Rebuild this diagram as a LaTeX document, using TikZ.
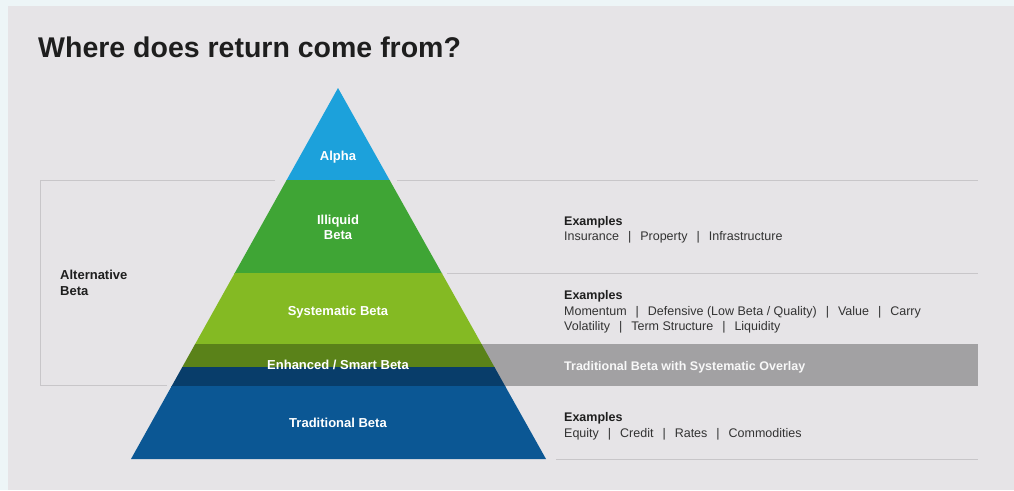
\documentclass[tikz,border=0pt]{standalone}
\usepackage{fontspec}
\setmainfont{Liberation Sans}
\usetikzlibrary{calc}

\definecolor{outerbg}{HTML}{EDF5F7}
\definecolor{panelbg}{HTML}{E6E4E7}
\definecolor{rulegray}{HTML}{C8C6C9}
\definecolor{bandgray}{HTML}{A2A1A3}
\definecolor{alphablue}{HTML}{1CA1DB}
\definecolor{illiquidgreen}{HTML}{3FA535}
\definecolor{systgreen}{HTML}{84BA23}
\definecolor{smartgreen}{HTML}{5A8219}
\definecolor{smartblue}{HTML}{083D6A}
\definecolor{tradblue}{HTML}{0B5794}
\definecolor{titleink}{HTML}{1E1E1E}
\definecolor{bodyink}{HTML}{333333}

\newcommand{\vsep}{\hspace{0.72em}|\hspace{0.72em}}

\tikzset{
  rule/.style={draw=rulegray, line width=1.4pt},
  layerlabel/.style={text=white, font=\fontsize{13}{15.5}\selectfont\bfseries,
    anchor=base, inner sep=0pt, align=center},
  headtext/.style={text=titleink, font=\fontsize{12.5}{16}\selectfont\bfseries,
    anchor=base west, inner sep=0pt},
  bodytext/.style={text=bodyink, font=\fontsize{12.5}{15.8}\selectfont,
    anchor=base west, inner sep=0pt, align=left},
}

\begin{document}
\begin{tikzpicture}[x=1pt, y=-1pt]
  % page and panel
  \fill[outerbg] (0,0) rectangle (1014,490);
  \fill[panelbg] (8,6) rectangle (1014,490);
  \useasboundingbox (0,0) rectangle (1014,490);

  % title
  \node[text=titleink, font=\fontsize{28.5}{32}\selectfont\bfseries,
        anchor=base west, inner sep=0pt] (title) at (38,57) {Where does return come from?};

  % horizontal rules to the right of the pyramid
  \draw[rule] (397,180.5) -- (978,180.5);
  \draw[rule] (447,273.5) -- (978,273.5);
  \draw[rule] (556,459.5) -- (978,459.5);

  % bracket for the alternative beta group
  \draw[rule] (275,180.5) -- (40.7,180.5) -- (40.7,385.3) -- (166.7,385.3);

  % grey band behind the enhanced layer
  \fill[bandgray] (420,344) rectangle (978,386);

  % pyramid corners
  \coordinate (apex) at (338,88);
  \coordinate (baseL) at (131,459);
  \coordinate (baseR) at (546,459);

  % pyramid layers
  \begin{scope}
    \clip (apex) -- (baseL) -- (baseR) -- cycle;
    \fill[alphablue]     (100,80)  rectangle (600,180.5);
    \fill[illiquidgreen] (100,180) rectangle (600,273.5);
    \fill[systgreen]     (100,273) rectangle (600,344.5);
    \fill[smartgreen]    (100,344) rectangle (600,367.5);
    \fill[smartblue]     (100,367) rectangle (600,386.5);
    \fill[tradblue]      (100,386) rectangle (600,460);
  \end{scope}

  % layer labels (base anchor of a two-line node is its last line)
  \node[layerlabel] (alpha) at (338,160) {Alpha};
  \node[layerlabel] (illiquid) at (338,239.5) {Illiquid\\Beta};
  \node[layerlabel] (systematic) at (338,315.5) {Systematic Beta};
  \node[layerlabel] (smart) at (338,369.5) {Enhanced / Smart Beta};
  \node[layerlabel] (traditional) at (338,427.5) {Traditional Beta};

  % group label
  \node[text=titleink, font=\fontsize{13}{15.8}\selectfont\bfseries,
        anchor=base west, inner sep=0pt, align=left] (altbeta) at (60,295.7) {Alternative\\Beta};

  % examples
  \node[headtext] (exA) at (564,225) {Examples};
  \node[bodytext] (exAbody) at (564,240.7) {Insurance\vsep Property\vsep Infrastructure};

  \node[headtext] (exB) at (564,299) {Examples};
  \node[bodytext] (exBbody) at (564,330.8) {Momentum\vsep Defensive (Low Beta / Quality)\vsep Value\vsep Carry\\
    Volatility\vsep Term Structure\vsep Liquidity};

  \node[text=white!92!bandgray, font=\fontsize{12.5}{15}\selectfont\bfseries,
        anchor=base west, inner sep=0pt] (overlay) at (564,370.5) {Traditional Beta with Systematic Overlay};

  \node[headtext] (exC) at (564,421.7) {Examples};
  \node[bodytext] (exCbody) at (564,437.5) {Equity\vsep Credit\vsep Rates\vsep Commodities};
\end{tikzpicture}
\end{document}
